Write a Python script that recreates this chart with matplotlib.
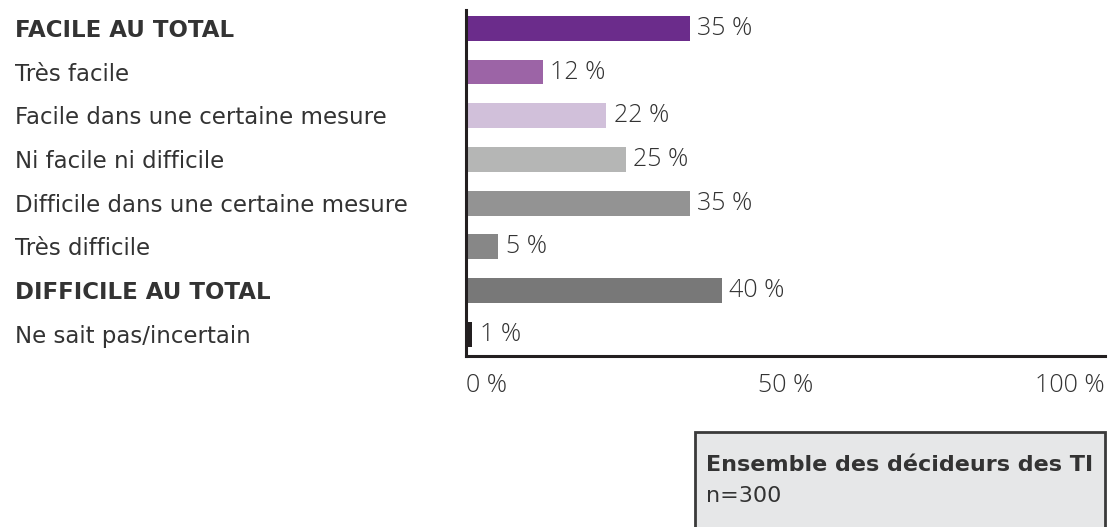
import matplotlib.pyplot as plt
from matplotlib.transforms import blended_transform_factory
from matplotlib.patches import Rectangle

# data
categories = ['FACILE AU TOTAL', 'Très facile', 'Facile dans une certaine mesure',
              'Ni facile ni difficile', 'Difficile dans une certaine mesure',
              'Très difficile', 'DIFFICILE AU TOTAL', 'Ne sait pas/incertain']
values = [35, 12, 22, 25, 35, 5, 40, 1]
bold_rows = [True, False, False, False, False, False, True, False]
colors = ['#6b2c8b', '#9c64a6', '#d1c0da', '#b5b6b5',
          '#939393', '#878787', '#787878', '#231f20']
xticks = [0, 50, 100]
xticklabels = ['0 %', '50 %', '100 %']

plt.rcParams['font.family'] = ['DejaVu Sans']
txt = '#333333'
axcol = '#231f20'
numfont = ['Open Sans', 'DejaVu Sans']

fig = plt.figure(figsize=(11.2, 5.27), dpi=100)
ax = fig.add_axes([0.416, 0.3245, 0.5705, 0.6565])

ypos = list(range(len(values)))
ax.barh(ypos, values, height=0.57, color=colors, zorder=2)
ax.set_ylim(7.5, -0.42)
ax.set_xlim(0, 100)

for y, v in zip(ypos, values):
    ax.text(v + 1.2, y, f'{v} %', va='center', ha='left', fontsize=18,
            color=txt, fontweight='light', family=numfont)

# category labels on the far left
tr = blended_transform_factory(fig.transFigure, ax.transData)
for y, lab, b in zip(ypos, categories, bold_rows):
    ax.text(15 / 1120, y + 0.05, lab, transform=tr, va='center', ha='left',
            fontsize=16.5, color=txt, fontweight='bold' if b else 'normal')

for s in ['top', 'right']:
    ax.spines[s].set_visible(False)
for s in ['left', 'bottom']:
    ax.spines[s].set_color(axcol)
    ax.spines[s].set_linewidth(2.2)
ax.set_yticks([])
ax.set_xticks(xticks)
ax.set_xticklabels(xticklabels, fontsize=18, color=txt, fontweight='light',
                   family=numfont)
ax.tick_params(axis='x', length=0, pad=12)
tl = ax.get_xticklabels()
tl[0].set_ha('left')
tl[-1].set_ha('right')

# sample box bottom right
box = Rectangle((695 / 1120, -0.02), 410 / 1120, (527 - 432) / 527 + 0.02,
                transform=fig.transFigure, facecolor='#e6e7e8',
                edgecolor='#3a3a3a', linewidth=2, zorder=0)
fig.patches.append(box)
fig.text(706 / 1120, 1 - 465 / 527, 'Ensemble des décideurs des TI',
         fontsize=16, fontweight='bold', color=txt, va='center', ha='left')
fig.text(706 / 1120, 1 - 496 / 527, 'n=300', fontsize=16, color=txt,
         va='center', ha='left')

fig.savefig('out.png', dpi=100)
